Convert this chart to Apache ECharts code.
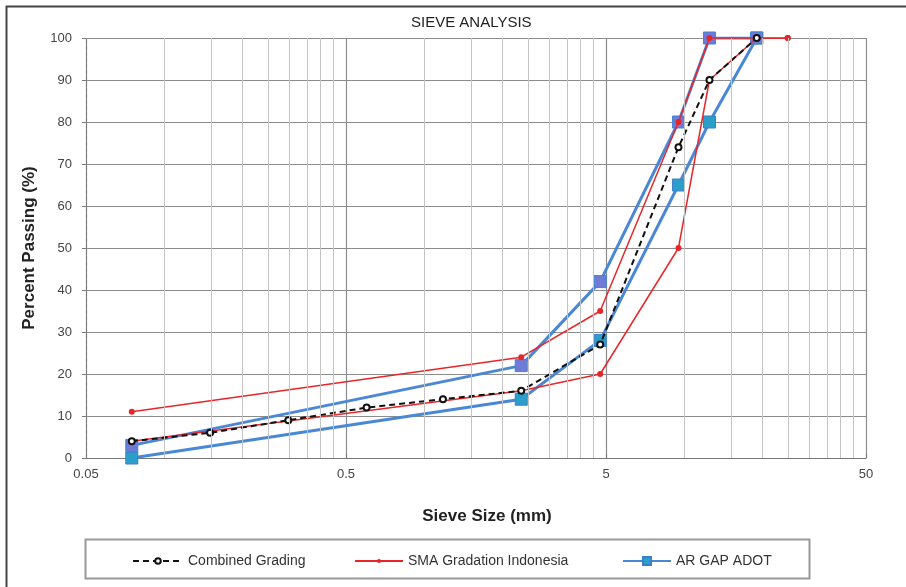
<!DOCTYPE html>
<html><head><meta charset="utf-8">
<script src="https://cdn.jsdelivr.net/npm/echarts@6/dist/echarts.min.js"></script>
<style>html,body{margin:0;padding:0;background:#fff}#c{width:906px;height:587px}</style>
</head><body><div id="c"></div>
<script>
// Sieve sizes (mm)
var combinedSizes = [0.075, 0.15, 0.3, 0.6, 1.18, 2.36, 4.75, 9.5, 12.5, 19];
var combinedPassing = [4, 6, 9, 12, 14, 16, 27, 74, 90, 100];
var smaSizes = [0.075, 2.36, 4.75, 9.5, 12.5, 19, 25];
var smaUpper = [11, 24, 35, 80, 100, 100, 100];
var smaLower = [4, 16, 20, 50, 90, 100, 100];
var adotSizes = [0.075, 2.36, 4.75, 9.5, 12.5, 19];
var adotUpper = [3, 22, 42, 80, 100, 100];
var adotLower = [0, 14, 28, 65, 80, 100];
var xTickValues = [0.05, 0.5, 5, 50];
var xTickLabels = ['0.05', '0.5', '5', '50'];
var yTicks = [0, 10, 20, 30, 40, 50, 60, 70, 80, 90, 100];

var base = xTickValues[0];
function tx(v){ return Math.log10(v / base); }
function pts(xs, ys){ return xs.map(function(x,i){ return [tx(x), ys[i]]; }); }

var minorLines = [];
for (var d = 0; d < xTickValues.length - 1; d++) {
  for (var k = 2; k <= 9; k++) minorLines.push({xAxis: tx(xTickValues[d] * k)});
}

var font = 'Liberation Sans';
var narrow = '"Liberation Sans Narrow", "Liberation Sans", sans-serif';
var blue = '#4a88d6', red = '#e8262a';
var legendText = { fontFamily: narrow, fontSize: 14, color: '#333' };
var chart = echarts.init(document.getElementById('c'));
chart.setOption({
  animation: false,
  backgroundColor: '#fff',
  title: { text: 'SIEVE ANALYSIS', left: 406, top: 10,
    textStyle: { fontFamily: narrow, fontSize: 15, fontWeight: 'normal', color: '#222' } },
  grid: { left: 86, right: 40, top: 38, bottom: 129 },
  xAxis: {
    type: 'value', min: 0, max: xTickValues.length - 1, interval: 1,
    name: 'Sieve Size (mm)', nameLocation: 'middle', nameGap: 50,
    nameTextStyle: { fontFamily: font, fontSize: 17, fontWeight: 'bold', color: '#222', padding: [0,0,0,22] },
    axisLine: { show: true, onZero: false, lineStyle: { color: '#777' } },
    axisTick: { show: true, inside: true, length: 4, lineStyle: { color: '#777' } },
    axisLabel: { fontFamily: narrow, fontSize: 13, color: '#444', margin: 10,
      formatter: function(v){ var i = Math.round(v); return xTickLabels[i] || ''; } },
    splitLine: { show: true, lineStyle: { color: '#8c8c8c', width: 1.2 } }
  },
  yAxis: {
    type: 'value', min: yTicks[0], max: yTicks[yTicks.length-1], interval: 10,
    name: 'Percent Passing (%)', nameLocation: 'middle', nameGap: 48,
    nameTextStyle: { fontFamily: font, fontSize: 17, fontWeight: 'bold', color: '#222' },
    axisLine: { show: true, lineStyle: { color: '#777', type: 'dashed' } },
    axisTick: { show: true, length: 4, lineStyle: { color: '#777' } },
    axisLabel: { fontFamily: narrow, fontSize: 13, color: '#444', margin: 14 },
    splitLine: { show: true, lineStyle: { color: '#8c8c8c', width: 1.2 } }
  },
  legend: [
    { left: 127, top: 549, itemWidth: 50, itemHeight: 7, itemGap: 4,
      textStyle: legendText, data: ['Combined Grading'] },
    { left: 349, top: 549, itemWidth: 48, itemHeight: 5, itemGap: 4,
      textStyle: legendText, data: ['SMA Gradation Indonesia'] },
    { left: 617, top: 549, itemWidth: 48, itemHeight: 10, itemGap: 4,
      textStyle: legendText, data: ['AR GAP ADOT'] }
  ],
  graphic: [
    { type: 'rect', left: 4, top: 4, shape: { width: 920, height: 600 }, silent: true,
      style: { fill: 'none', stroke: '#444', lineWidth: 2 } },
    { type: 'rect', left: 83, top: 537, shape: { width: 724, height: 39 }, silent: true,
      style: { fill: 'none', stroke: '#999', lineWidth: 2 } }
  ],
  series: [
    { type: 'line', name: 'grid-minor', data: [], silent: true,
      markLine: { silent: true, symbol: 'none', label: { show: false },
        lineStyle: { color: '#c4c4c4', width: 1, type: 'solid' }, data: minorLines } },
    { type: 'line', name: 'AR GAP ADOT', data: pts(adotSizes, adotLower),
      symbol: 'rect', symbolSize: 12,
      itemStyle: { color: '#2b9fca', borderColor: '#3a7fc8', borderWidth: 1 },
      lineStyle: { color: blue, width: 3 }, z: 2 },
    { type: 'line', name: 'AR GAP ADOT', data: pts(adotSizes, adotUpper),
      symbol: 'rect', symbolSize: 12,
      itemStyle: { color: '#6f7bd6', borderColor: '#3f84d0', borderWidth: 1 },
      lineStyle: { color: blue, width: 3 }, z: 2 },
    { type: 'line', name: 'SMA Gradation Indonesia', data: pts(smaSizes, smaUpper),
      symbol: 'circle', symbolSize: 6, itemStyle: { color: red },
      lineStyle: { color: red, width: 1.5 }, z: 3 },
    { type: 'line', name: 'SMA Gradation Indonesia', data: pts(smaSizes, smaLower),
      symbol: 'circle', symbolSize: 6, itemStyle: { color: red },
      lineStyle: { color: red, width: 1.5 }, z: 3 },
    { type: 'line', name: 'Combined Grading', data: pts(combinedSizes, combinedPassing),
      symbol: 'emptyCircle', symbolSize: 6, showAllSymbol: true,
      itemStyle: { color: '#111', borderColor: '#111', borderWidth: 1.5 },
      lineStyle: { color: '#111', width: 2, type: [6, 4] }, z: 4 }
  ]
});
</script></body></html>
